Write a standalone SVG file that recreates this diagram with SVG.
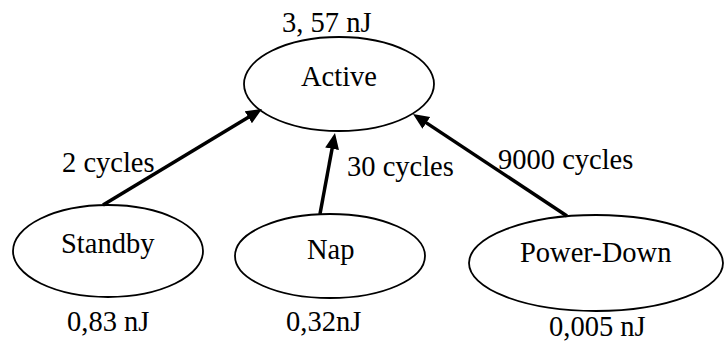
<svg xmlns="http://www.w3.org/2000/svg" width="724" height="343" viewBox="0 0 724 343">
<style>
.n{fill:#fff;stroke:#000;stroke-width:1.8}
.t{font-family:"Liberation Serif","Times New Roman",serif;font-size:28.5px;fill:#000}
.e{stroke:#000;stroke-width:3.5;fill:none;marker-end:url(#ah)}
</style>
<defs>
<marker id="ah" markerUnits="userSpaceOnUse" markerWidth="18" markerHeight="15" refX="4" refY="7" orient="auto" viewBox="0 0 18 15">
<path d="M0,0 L16,7 L0,14 z" fill="#000"/>
</marker>
</defs>
<rect width="724" height="343" fill="#fff"/>
<g id="active">
<ellipse class="n" cx="339" cy="84" rx="95" ry="47"/>
<text class="t" x="301" y="86">Active</text>
<text class="t" x="282" y="32">3, 57 nJ</text>
</g>
<g id="standby">
<ellipse class="n" cx="108" cy="251" rx="95" ry="46"/>
<text class="t" x="61" y="253">Standby</text>
<text class="t" x="67" y="331">0,83 nJ</text>
</g>
<g id="nap">
<ellipse class="n" cx="330" cy="256" rx="95" ry="42"/>
<text class="t" x="307" y="259">Nap</text>
<text class="t" x="286" y="331">0,32nJ</text>
</g>
<g id="powerdown">
<ellipse class="n" cx="596" cy="263" rx="127" ry="48"/>
<text class="t" x="520" y="262">Power-Down</text>
<text class="t" x="549" y="336">0,005 nJ</text>
</g>
<g id="connectors">
<line class="e" x1="103" y1="205" x2="251.7" y2="115.2"/>
<line class="e" x1="320" y1="214" x2="332.8" y2="144.8"/>
<line class="e" x1="567" y1="216" x2="423" y2="120.6"/>
<text class="t" x="62" y="172">2 cycles</text>
<text class="t" x="347" y="176">30 cycles</text>
<text class="t" x="498" y="169">9000 cycles</text>
</g>
</svg>
